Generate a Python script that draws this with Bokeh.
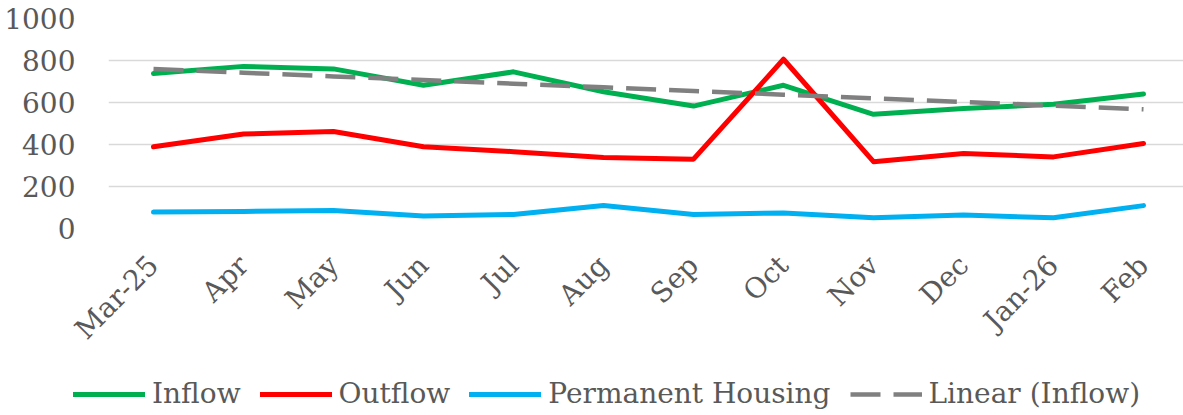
import math
import numpy as np
from bokeh.plotting import figure
from bokeh.layouts import column
from bokeh.models import Range1d, FixedTicker, Legend, LegendItem
from bokeh.embed import file_html
from bokeh.resources import INLINE

months = ["Mar-25", "Apr", "May", "Jun", "Jul", "Aug", "Sep", "Oct", "Nov", "Dec", "Jan-26", "Feb"]
inflow = [738, 772, 760, 682, 746, 651, 583, 682, 544, 571, 592, 640]
outflow = [389, 450, 462, 389, 366, 338, 330, 806, 318, 357, 341, 405]
permanent_housing = [78, 81, 86, 59, 67, 110, 67, 74, 51, 64, 51, 109]
y_ticks = [0, 200, 400, 600, 800, 1000]
series_names = ["Inflow", "Outflow", "Permanent Housing", "Linear (Inflow)"]

x = list(range(len(months)))
# Linear (Inflow): least-squares trendline of the Inflow series
slope, intercept = np.polyfit(x, inflow, 1)
trend = [float(intercept + slope * i) for i in x]

FONT = "DejaVu Serif"
TXT = "#595959"
FS = "28px"
STYLES = [dict(line_color="#00B050", line_width=5, line_cap="round", line_join="round"),
          dict(line_color="#FF0000", line_width=5, line_cap="round", line_join="round"),
          dict(line_color="#00B0F0", line_width=5, line_cap="round", line_join="round"),
          dict(line_color="#808080", line_width=4.5, line_dash="30 13")]

p = figure(width=1183, height=360, output_backend="svg", toolbar_location=None,
           x_range=Range1d(-0.5, -0.5 + 1075 / 90), y_range=Range1d(0, 1000),
           min_border_left=108, min_border_right=0, min_border_top=18,
           min_border_bottom=127)
p.outline_line_color = None
p.background_fill_color = "white"
p.border_fill_color = "white"

p.xgrid.visible = False
p.ygrid.grid_line_color = "#d9d9d9"
p.ygrid.grid_line_width = 1.5

p.yaxis.ticker = FixedTicker(ticks=y_ticks)
p.xaxis.ticker = FixedTicker(ticks=x)
p.xaxis.major_label_overrides = {i: m for i, m in zip(x, months)}
p.xaxis.major_label_orientation = math.pi / 4

for ax in (p.xaxis[0], p.yaxis[0]):
    ax.axis_line_color = None
    ax.major_tick_line_color = None
    ax.minor_tick_line_color = None
    ax.major_label_text_font = FONT
    ax.major_label_text_font_size = FS
    ax.major_label_text_color = TXT
p.yaxis.major_label_standoff = 27
p.xaxis.major_label_standoff = 26

for ys, st in zip([inflow, outflow, permanent_housing, trend], STYLES):
    p.line(x, ys, **st)

# Legend strip below the chart (its own small canvas, same series styles)
lg = figure(width=1183, height=55, output_backend="svg", toolbar_location=None,
            x_range=Range1d(0, 1), y_range=Range1d(0, 1),
            x_axis_type=None, y_axis_type=None, min_border=0)
lg.outline_line_color = None
lg.xgrid.visible = False
lg.ygrid.visible = False
leg_x = 73
try:
    p.frame_align = False
    lg.frame_align = False
except Exception:
    leg_x = 73 - 108

items = []
for name, st in zip(series_names, STYLES):
    # off-frame stub so only the legend swatch is seen
    r = lg.line([-5, -4], [-5, -4], **st)
    items.append(LegendItem(label=name, renderers=[r]))

legend = Legend(items=items, location=(leg_x, 5), orientation="horizontal",
                glyph_width=72, glyph_height=20, label_standoff=7, spacing=19,
                padding=0, margin=0,
                label_text_font=FONT, label_text_font_size=FS, label_text_color=TXT,
                border_line_color=None, background_fill_alpha=0)
lg.add_layout(legend, "center")

layout = column(p, lg, spacing=0)
open("out.html", "w").write(file_html(layout, INLINE))
